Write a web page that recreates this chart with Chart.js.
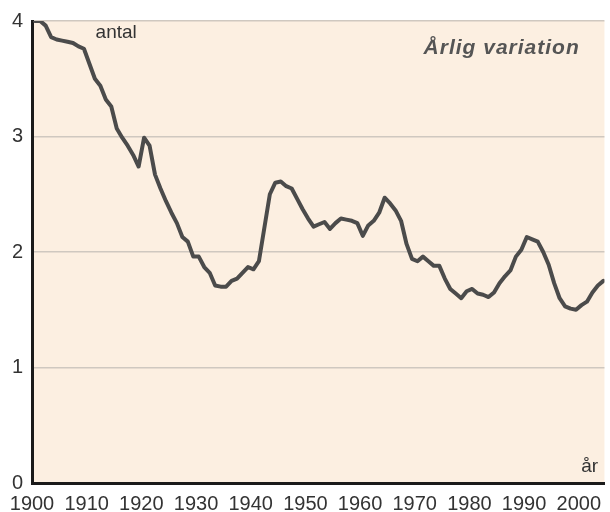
<!DOCTYPE html>
<html>
<head>
<meta charset="utf-8">
<script src="https://cdn.jsdelivr.net/npm/chart.js@4"></script>
<style>
  html, body { margin: 0; padding: 0; background: #fff; }
  #wrap { width: 610px; height: 512px; }
</style>
</head>
<body>
<div id="wrap"><canvas id="myChart" width="610" height="512"></canvas></div>
<script>
// summerad fruktsamhet, Sverige 1900-2004
var years = [];
for (var y = 1900; y <= 2004; y++) years.push(y);
var values = [
    4.00, 4.00, 3.96, 3.86, 3.84, 3.83, 3.82, 3.81, 3.78, 3.76,
    3.63, 3.50, 3.44, 3.32, 3.26, 3.07, 2.99, 2.92, 2.84, 2.74,
    2.99, 2.92, 2.67, 2.55, 2.44, 2.34, 2.25, 2.13, 2.09, 1.96,
    1.96, 1.87, 1.82, 1.71, 1.70, 1.70, 1.75, 1.77, 1.82, 1.87,
    1.85, 1.92, 2.21, 2.50, 2.60, 2.61, 2.57, 2.55, 2.46, 2.37,
    2.29, 2.22, 2.24, 2.26, 2.20, 2.25, 2.29, 2.28, 2.27, 2.25,
    2.14, 2.23, 2.27, 2.34, 2.47, 2.42, 2.36, 2.27, 2.07, 1.94,
    1.92, 1.96, 1.92, 1.88, 1.88, 1.77, 1.68, 1.64, 1.60, 1.66,
    1.68, 1.64, 1.63, 1.61, 1.65, 1.73, 1.79, 1.84, 1.96, 2.02,
    2.13, 2.11, 2.09, 2.00, 1.89, 1.73, 1.60, 1.53, 1.51, 1.50,
    1.54, 1.57, 1.65, 1.71, 1.75
];
var xTicks = [1900, 1910, 1920, 1930, 1940, 1950, 1960, 1970, 1980, 1990, 2000];
var yTicks = [0, 1, 2, 3, 4];

var fontName = '"Liberation Sans", Arial, sans-serif';

var paper = {
    id: 'paper',
    beforeDraw: function (chart) {
        var a = chart.chartArea, ctx = chart.ctx;
        ctx.save();
        ctx.fillStyle = '#fcefe1';
        ctx.fillRect(a.left, a.top, a.right - a.left, a.bottom - a.top);
        ctx.restore();
    },
    afterDraw: function (chart) {
        var ctx = chart.ctx, xs = chart.scales.x, ys = chart.scales.y;
        ctx.save();
        ctx.fillStyle = '#333';
        ctx.textBaseline = 'alphabetic';
        ctx.font = '19px ' + fontName;
        ctx.textAlign = 'center';
        ctx.fillText('antal', xs.getPixelForValue(1915.4), ys.getPixelForValue(3.85));
        ctx.fillText('år', xs.getPixelForValue(2002.0), ys.getPixelForValue(0.095));
        ctx.fillStyle = '#555';
        ctx.font = 'italic bold 21px ' + fontName;
        ctx.letterSpacing = '1px';
        ctx.fillText('Årlig variation', xs.getPixelForValue(1985.9), ys.getPixelForValue(3.716));
        ctx.restore();
    }
};

var chart1 = document.getElementById('myChart');
var myChart = new Chart(chart1, {
    type: 'line',
    data: {
        datasets: [{
            label: 'antal',
            data: years.map(function (yr, i) { return { x: yr + 0.5, y: values[i] }; }),
            borderColor: '#4b4b4b',
            borderWidth: 4,
            borderJoinStyle: 'round',
            borderCapStyle: 'round',
            pointRadius: 0,
            tension: 0
        }]
    },
    options: {
        responsive: false,
        animation: false,
        layout: { padding: { top: 19, right: 0, left: 0, bottom: 0 } },
        plugins: {
            legend: { display: false },
            tooltip: { enabled: false }
        },
        scales: {
            x: {
                type: 'linear',
                min: 1900,
                max: 2004.7,
                afterBuildTicks: function (s) { s.ticks = xTicks.map(function (v) { return { value: v }; }); },
                afterFit: function (s) { s.height = 29; },
                grid: { display: false, drawTicks: false },
                border: { display: true, color: '#1a1a1a', width: 3 },
                ticks: {
                    padding: 9,
                    maxRotation: 0,
                    autoSkip: false,
                    color: '#333',
                    font: { family: fontName, size: 20 },
                    callback: function (v) { return String(v); }
                }
            },
            y: {
                min: 0,
                max: 4,
                afterBuildTicks: function (s) { s.ticks = yTicks.map(function (v) { return { value: v }; }); },
                afterFit: function (s) { s.width = 32; },
                grid: { color: '#cfc8c0', lineWidth: 1.5, drawTicks: false },
                border: { display: true, color: '#1a1a1a', width: 3 },
                ticks: {
                    padding: 9,
                    color: '#333',
                    font: { family: fontName, size: 20 },
                    callback: function (v) { return String(v); }
                }
            }
        }
    },
    plugins: [paper]
});
</script>
</body>
</html>
